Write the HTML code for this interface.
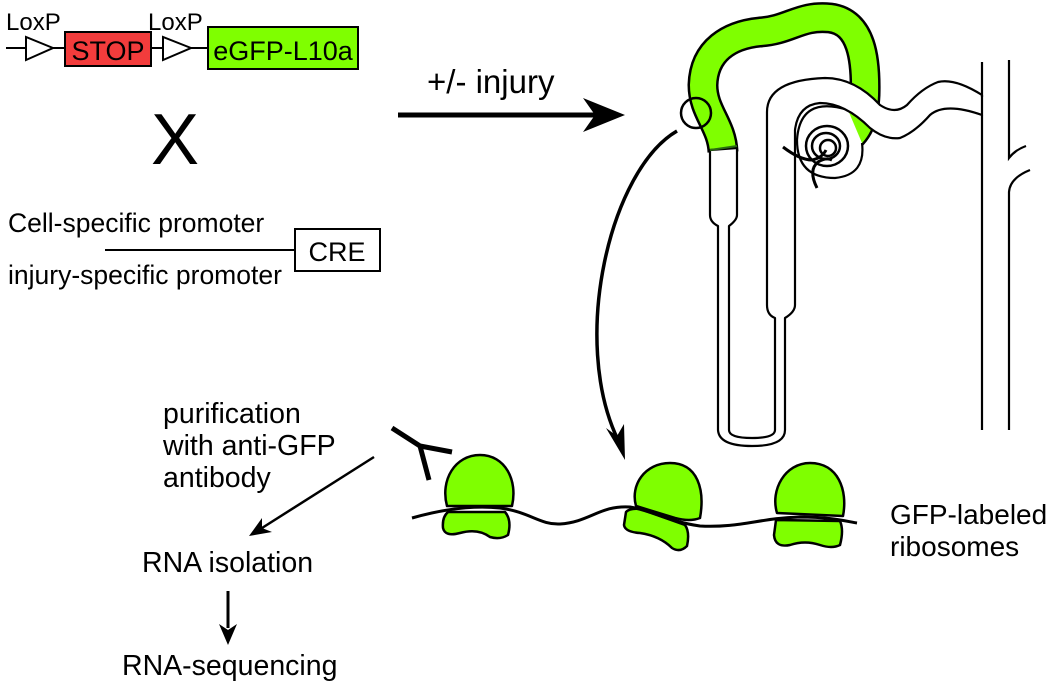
<!DOCTYPE html>
<html><head><meta charset="utf-8"><style>
html,body{margin:0;padding:0;background:#fff;}
svg{display:block;}
text{font-family:"Liberation Sans",Arial,sans-serif;fill:#000;}
</style></head><body>
<svg width="1050" height="689" viewBox="0 0 1050 689" xmlns="http://www.w3.org/2000/svg">
<text x="6" y="30" font-size="24">LoxP</text>
<text x="148" y="30" font-size="24">LoxP</text>
<g stroke="#000" stroke-width="2" fill="none">
<line x1="6" y1="48" x2="26" y2="48"/>
<polygon points="26,37 26,60 53,48" fill="#fff"/>
<line x1="53" y1="48" x2="65" y2="48"/>
<rect x="65" y="32" width="86" height="34" fill="#f23c3c"/>
<line x1="151" y1="48" x2="163" y2="48"/>
<polygon points="163,37 163,60 191,48" fill="#fff"/>
<line x1="191" y1="48" x2="208" y2="48"/>
<rect x="208" y="27" width="150" height="42" fill="#7fff00"/>
</g>
<text x="108" y="60" font-size="27" text-anchor="middle">STOP</text>
<text x="283" y="60" font-size="27" text-anchor="middle">eGFP-L10a</text>
<text x="175" y="164" font-size="72" text-anchor="middle">X</text>
<text x="8" y="232" font-size="26.5">Cell-specific promoter</text>
<text x="8" y="284" font-size="26.5">injury-specific promoter</text>
<g stroke="#000" stroke-width="2" fill="none">
<line x1="105" y1="250" x2="295" y2="250"/>
<rect x="295" y="229" width="85" height="42" fill="#fff"/>
</g>
<text x="337" y="261" font-size="27" text-anchor="middle">CRE</text>
<text x="427" y="93" font-size="33">+/- injury</text>
<line x1="398" y1="115" x2="600" y2="115" stroke="#000" stroke-width="5"/>
<polygon points="625,115 583,98 595,115 583,132" fill="#000"/>
<g fill="none" stroke-linejoin="round" stroke-linecap="butt">
<path d="M723,152 C722,125 703,112 703,85 C704,50 730,35 760,32 C790,30 800,15 830,18 C862,22 866,60 865,95 C864,115 860,130 846,140" stroke="#000" stroke-width="31"/>
<path d="M723,152 C722,125 703,112 703,85 C704,50 730,35 760,32 C790,30 800,15 830,18 C862,22 866,60 865,95 C864,115 860,130 846,140" stroke="#7fff00" stroke-width="26"/>
</g>
<g fill="none" stroke="#000" stroke-width="2.2">
<path d="M848,110 Q800,95 797,140 Q797,178 835,178 Q866,175 862,143" fill="#fff"/>
</g>
<g fill="#fff" stroke="#000" stroke-width="2.2" stroke-linejoin="round">
<path d="M710,150 L710,215 Q710,222 718,226 L718,430 Q719,446 752,446 Q785,446 785,430 L785,318 Q795,312 795,305 L795,130 Q798,105 820,103 Q845,103 870,128 Q885,140 900,138 Q915,132 930,115 Q945,102 982,115 L982,95 Q955,78 938,82 Q922,88 907,105 Q895,115 880,105 Q855,78 825,78 Q767,80 767,112 L767,305 Q767,315 775,318 L775,430 Q775,438 752,438 Q729,438 729,430 L729,226 Q737,220 737,215 L737,148 Z"/>
</g>
<path d="M710,150 L737,146" stroke="#2a6b10" stroke-width="2"/>
<g fill="none" stroke="#000" stroke-width="2.5">
<ellipse cx="827" cy="146" rx="21" ry="20"/>
<ellipse cx="826" cy="146" rx="14" ry="13"/>
<ellipse cx="828" cy="148" rx="8" ry="8"/>
<path d="M783,147 Q800,160 812,160 Q822,158 826,150" stroke-width="3"/>
<path d="M817,188 Q808,170 818,162 Q826,157 832,160" stroke-width="3"/>
</g>
<g stroke="#000" stroke-width="2.2" fill="none">
<line x1="982" y1="62" x2="982" y2="97"/>
<line x1="982" y1="115" x2="982" y2="430"/>
<path d="M1009,60 L1009,158 Q1015,150 1026,146"/>
<path d="M1030,170 Q1010,178 1009,192 L1009,430"/>
</g>
<circle cx="696" cy="113" r="15" fill="none" stroke="#000" stroke-width="2.5"/>
<path d="M677,131 C610,170 570,340 618,440" fill="none" stroke="#000" stroke-width="3.5"/>
<polygon points="625,460 606,428 617,436 624,424" fill="#000"/>
<g stroke="#000" stroke-width="2.5" fill="#7fff00" stroke-linejoin="round">
<path d="M447,506 C440,480 455,455 480,455 C505,455 518,480 512,506 Z"/>
<path d="M448,512 L505,512 Q512,520 508,535 Q500,540 490,537 Q478,528 460,533 Q445,537 443,528 Q442,517 448,512 Z"/>
<path d="M636,506 C630,485 645,463 670,463 C698,463 705,490 700,518 Q690,522 675,518 Z"/>
<path d="M626,512 Q630,508 640,509 L685,525 Q690,532 687,546 Q680,553 672,548 Q660,536 640,533 Q625,532 624,525 Z"/>
<path d="M777,513 C770,490 785,463 810,463 C838,463 848,490 843,516 Z"/>
<path d="M776,520 L840,521 Q844,530 840,545 Q832,549 820,545 Q805,540 790,545 Q775,548 774,535 Z"/>
</g>
<path d="M412,518 C440,510 470,505 500,508 C530,512 540,525 560,524 C590,522 600,505 630,507 C650,510 670,522 700,526 C740,528 760,518 800,517 C830,517 845,521 857,523" fill="none" stroke="#000" stroke-width="3"/>
<g stroke="#000" stroke-width="5" fill="none">
<path d="M392,428 L420,446 L452,452"/>
<path d="M420,446 L429,480"/>
</g>
<text x="163" y="423" font-size="28.5">purification</text>
<text x="163" y="455" font-size="28.5">with anti-GFP</text>
<text x="163" y="487" font-size="28.5">antibody</text>
<text x="142" y="572" font-size="28.5">RNA isolation</text>
<text x="122" y="675" font-size="28.5">RNA-sequencing</text>
<text x="890" y="524" font-size="28">GFP-labeled</text>
<text x="890" y="556" font-size="28">ribosomes</text>
<line x1="374" y1="457" x2="262" y2="528" stroke="#000" stroke-width="2.5"/>
<polygon points="249,536 262,518 262,528 272,532" fill="#000"/>
<line x1="228" y1="591" x2="228" y2="628" stroke="#000" stroke-width="3"/>
<polygon points="228,645 219,624 228,630 237,624" fill="#000"/>
</svg>
</body></html>
